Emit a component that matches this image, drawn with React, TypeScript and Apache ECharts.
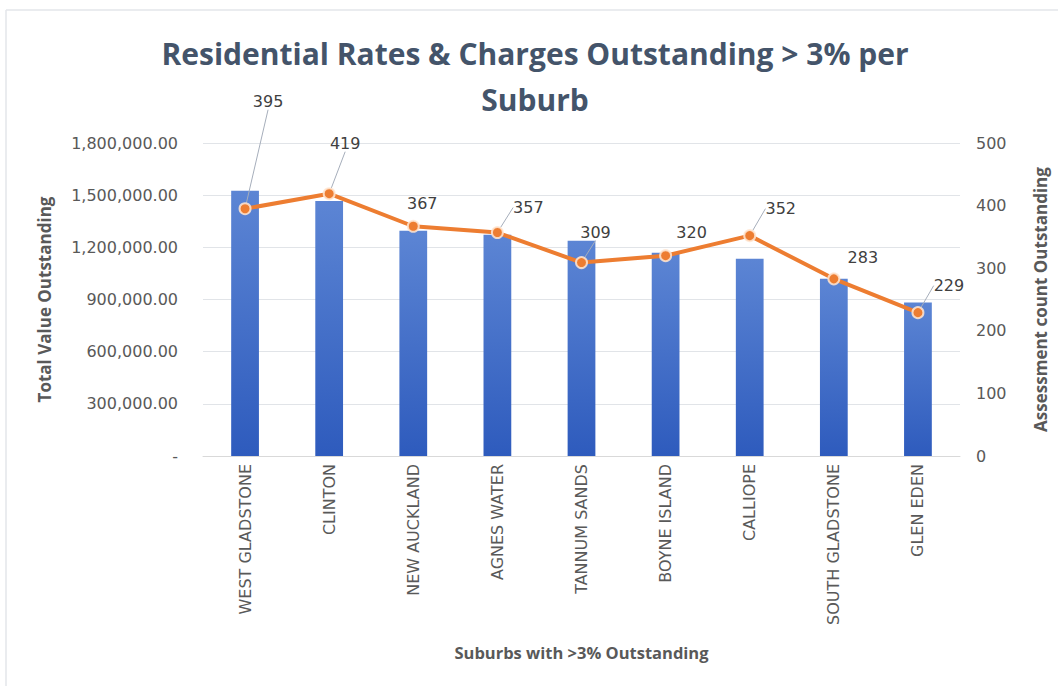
import React, { useEffect, useRef } from "react";
import * as echarts from "echarts";

const categories = [
  "WEST GLADSTONE",
  "CLINTON",
  "NEW AUCKLAND",
  "AGNES WATER",
  "TANNUM SANDS",
  "BOYNE ISLAND",
  "CALLIOPE",
  "SOUTH GLADSTONE",
  "GLEN EDEN",
];

const totalValue = [1525000, 1467000, 1295000, 1273000, 1238000, 1169000, 1135000, 1020000, 883000];
const assessmentCount = [395, 419, 367, 357, 309, 320, 352, 283, 229];

const leftTicks = { min: 0, max: 1800000, interval: 300000 };
const rightTicks = { min: 0, max: 500, interval: 100 };

// label styling (offsets from marker centre, and whether a leader line is drawn)
const LABEL_OFFSETS: [number, number][] = [
  [23, -107], [16, -50], [9, -23], [31, -25], [14, -30], [26, -23], [31, -27], [29, -21], [31, -27],
];
const LABEL_LEADER = [true, true, false, true, true, false, true, false, true];

const FONT = "'Open Sans', 'Noto Sans', sans-serif";
const TICK_FONT = "'DejaVu Sans', 'Open Sans', sans-serif";

export default function App() {
  const ref = useRef<HTMLDivElement>(null);
  useEffect(() => {
    if (!ref.current) return;
    const chart = echarts.init(ref.current, null, { renderer: "svg" });
    const lineData = assessmentCount.map((v, i) => ({
      value: v,
      labelLine: { show: LABEL_LEADER[i] },
    }));
    chart.setOption({
      animation: false,
      backgroundColor: "#ffffff",
      textStyle: { fontFamily: FONT },
      title: {
        text: "Residential Rates & Charges Outstanding > 3% per\nSuburb",
        left: 530,
        top: 25,
        textAlign: "center",
        textStyle: {
          fontFamily: FONT,
          fontSize: 30,
          fontWeight: "bold",
          color: "#44546a",
          lineHeight: 46,
        },
      },
      graphic: [
        { type: "line", shape: { x1: 6, y1: 10, x2: 1058, y2: 10 }, style: { stroke: "#e3e6ea", lineWidth: 1.5 } },
        { type: "line", shape: { x1: 6, y1: 10, x2: 6, y2: 686 }, style: { stroke: "#e3e6ea", lineWidth: 1.5 } },
      ],
      grid: { left: 203, right: 98, top: 143, bottom: 230 },
      xAxis: {
        type: "category",
        data: categories,
        name: "Suburbs with >3% Outstanding",
        nameLocation: "middle",
        nameGap: 188,
        nameTextStyle: { fontFamily: FONT, fontSize: 16.5, fontWeight: "bold", color: "#595959" },
        axisLine: { lineStyle: { color: "#d9d9d9", width: 1 } },
        axisTick: { show: false },
        axisLabel: {
          rotate: 90,
          margin: 8,
          fontSize: 16,
          color: "#595959",
          fontFamily: TICK_FONT,
        },
      },
      yAxis: [
        {
          type: "value",
          min: leftTicks.min,
          max: leftTicks.max,
          interval: leftTicks.interval,
          name: "Total Value Outstanding",
          nameLocation: "middle",
          nameGap: 150,
          nameTextStyle: { fontFamily: FONT, fontSize: 17, fontWeight: "bold", color: "#595959" },
          axisLine: { show: false },
          axisTick: { show: false },
          splitLine: { lineStyle: { color: "#e1e4e8", width: 1 } },
          axisLabel: {
            margin: 25,
            fontSize: 16,
            color: "#595959",
            fontFamily: TICK_FONT,
            formatter: (v: number) =>
              v === 0
                ? "-"
                : v.toLocaleString("en-US", { minimumFractionDigits: 2, maximumFractionDigits: 2 }),
          },
        },
        {
          type: "value",
          min: rightTicks.min,
          max: rightTicks.max,
          interval: rightTicks.interval,
          position: "right",
          name: "Assessment count Outstanding",
          nameLocation: "middle",
          nameRotate: 90,
          nameGap: 72,
          nameTextStyle: { fontFamily: FONT, fontSize: 17, fontWeight: "bold", color: "#595959" },
          axisLine: { show: false },
          axisTick: { show: false },
          splitLine: { show: false },
          axisLabel: { margin: 16, fontSize: 16, color: "#595959", fontFamily: TICK_FONT },
        },
      ],
      series: [
        {
          type: "bar",
          name: "Total Value Outstanding",
          data: totalValue,
          yAxisIndex: 0,
          barWidth: "33%",
          itemStyle: {
            color: new echarts.graphic.LinearGradient(0, 0, 0, 1, [
              { offset: 0, color: "#5c85d4" },
              { offset: 1, color: "#2e5bbd" },
            ]),
          },
        },
        {
          type: "line",
          name: "Assessment count Outstanding",
          data: lineData,
          yAxisIndex: 1,
          symbol: "circle",
          symbolSize: 11,
          lineStyle: { color: "#ED7D31", width: 4 },
          itemStyle: { color: "#ED7D31", borderColor: "rgba(255,230,210,0.85)", borderWidth: 2 },
          label: {
            show: true,
            position: "inside",
            fontSize: 16,
            color: "#404040",
            fontFamily: TICK_FONT,
          },
          labelLine: { show: true, lineStyle: { color: "#a6aebb", width: 1 } },
          labelLayout: (params: any) => {
            const o = LABEL_OFFSETS[params.dataIndex] || [0, -20];
            return { dx: o[0], dy: o[1] };
          },
        },
      ],
    });
    return () => chart.dispose();
  }, []);
  return <div ref={ref} style={{ width: 1058, height: 686, position: "absolute", left: 0, top: 0 }} />;
}
